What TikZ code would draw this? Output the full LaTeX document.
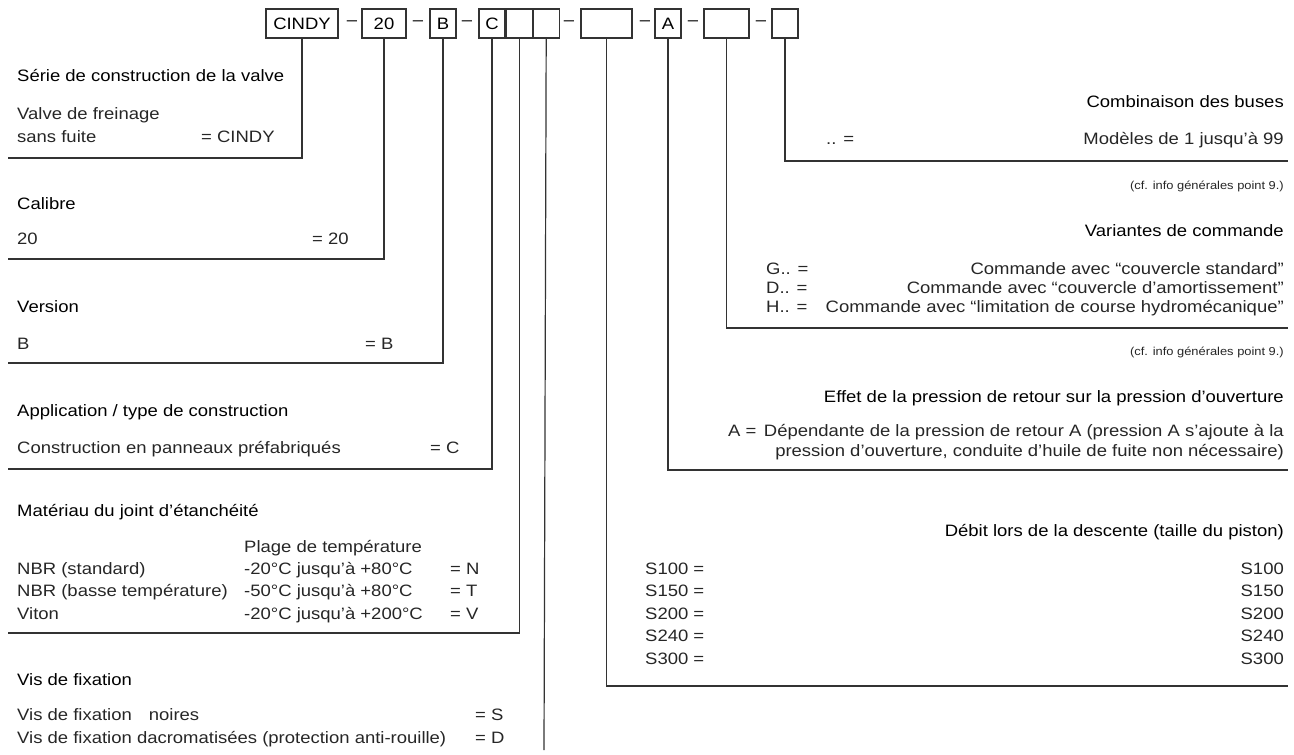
\documentclass[tikz,border=0pt]{standalone}
\usepackage{fontspec}
\setmainfont{Liberation Sans}[FakeStretch=1.12]
\usetikzlibrary{positioning}

\tikzset{
  codebox/.style={draw=black!80, line width=1.1pt, minimum height=29pt, minimum width=26pt, inner sep=0pt, font=\fontsize{16.5}{18}\selectfont},
  sepmark/.style={inner sep=0pt, font=\fontsize{16.5}{18}\selectfont},
  head/.style={inner sep=0pt, font=\fontsize{16.5}{18}\selectfont, text=black},
  txt/.style={inner sep=0pt, font=\fontsize{16.5}{18}\selectfont, text=black!85},
  note/.style={inner sep=0pt, font=\fontsize{11.5}{13}\selectfont, text=black!85, anchor=base east},
  lead/.style={draw=black!80, line width=1.2pt},
}

\begin{document}
\begin{tikzpicture}[x=1pt,y=-1pt]
  \useasboundingbox (0,0) rectangle (1294,755);

  % type code
  \node[codebox, minimum width=72pt] (bCindy) at (302,23.5) {CINDY};
  \node[sepmark] (s1) at (352,23.5) {--};
  \node[codebox, minimum width=44pt] (b20) at (384,23.5) {20};
  \node[sepmark] (s2) at (418,23.5) {--};
  \node[codebox] (bB) at (443,23.5) {B};
  \node[sepmark] (s3) at (467,23.5) {--};
  \node[codebox] (bC) at (492,23.5) {C};
  \node[codebox, right=0pt of bC] (bSeal) {};
  \node[codebox, right=0pt of bSeal] (bScrew) {};
  \node[sepmark] (s4) at (569,23.5) {--};
  \node[codebox, minimum width=51pt] (bFlow) at (606.5,23.5) {};
  \node[sepmark] (s5) at (645,23.5) {--};
  \node[codebox] (bA) at (668,23.5) {A};
  \node[sepmark] (s6) at (693,23.5) {--};
  \node[codebox, minimum width=45pt] (bCtrl) at (726.5,23.5) {};
  \node[sepmark] (s7) at (761,23.5) {--};
  \node[codebox] (bNoz) at (785,23.5) {};

  % left side
  \node[head, anchor=base west] (hSerie) at (17,81) {Série de construction de la valve};
  \node[txt, anchor=base west] (tSerie1) at (17,119) {Valve de freinage};
  \node[txt, anchor=base west] (tSerie2) at (17,142) {sans fuite};
  \node[txt, anchor=base west] (vSerie) at (201,142) {= CINDY};
  \coordinate (eSerie) at (8,158);
  \draw[lead] (bCindy.south) |- (eSerie);

  \node[head, anchor=base west] (hCal) at (17,209) {Calibre};
  \node[txt, anchor=base west] (tCal) at (17,244) {20};
  \node[txt, anchor=base west] (vCal) at (312,244) {= 20};
  \coordinate (eCal) at (8,259);
  \draw[lead] (b20.south) |- (eCal);

  \node[head, anchor=base west] (hVer) at (17,312) {Version};
  \node[txt, anchor=base west] (tVer) at (17,349) {B};
  \node[txt, anchor=base west] (vVer) at (365,349) {= B};
  \coordinate (eVer) at (8,363);
  \draw[lead] (bB.south) |- (eVer);

  \node[head, anchor=base west] (hApp) at (17,416) {Application / type de construction};
  \node[txt, anchor=base west] (tApp) at (17,453) {Construction en panneaux préfabriqués};
  \node[txt, anchor=base west] (vApp) at (430,453) {= C};
  \coordinate (eApp) at (8,469);
  \draw[lead] (bC.south) |- (eApp);

  \node[head, anchor=base west] (hSeal) at (17,516) {Matériau du joint d’étanchéité};
  \node[txt, anchor=base west] (tRange) at (244,552) {Plage de température};
  \node[txt, anchor=base west] (tN) at (17,574) {NBR (standard)};
  \node[txt, anchor=base west] (rN) at (244,574) {-20°C jusqu’à +80°C};
  \node[txt, anchor=base west] (vN) at (450,574) {= N};
  \node[txt, anchor=base west] (tT) at (17,596) {NBR (basse température)};
  \node[txt, anchor=base west] (rT) at (244,596) {-50°C jusqu’à +80°C};
  \node[txt, anchor=base west] (vT) at (450,596) {= T};
  \node[txt, anchor=base west] (tV) at (17,619) {Viton};
  \node[txt, anchor=base west] (rV) at (244,619) {-20°C jusqu’à +200°C};
  \node[txt, anchor=base west] (vV) at (450,619) {= V};
  \coordinate (eSeal) at (8,633);
  \draw[lead] (bSeal.south) |- (eSeal);

  \node[head, anchor=base west] (hScrew) at (17,685) {Vis de fixation};
  \node[txt, anchor=base west] (tS) at (17,720) {Vis de fixation\hspace*{17pt}noires};
  \node[txt, anchor=base west] (vS) at (475,720) {= S};
  \node[txt, anchor=base west] (tD) at (17,743) {Vis de fixation dacromatisées (protection anti-rouille)};
  \node[txt, anchor=base west] (vD) at (475,743) {= D};
  \coordinate (eScrew) at (544,750);
  \draw[lead] (bScrew.south) -- (eScrew);

  % right side
  \node[head, anchor=base east] (hNoz) at (1284,107) {Combinaison des buses};
  \node[txt, anchor=base west] (kNoz) at (826,144) {.. =};
  \node[txt, anchor=base east] (vNoz) at (1284,144) {Modèles de 1 jusqu’à 99};
  \coordinate (eNoz) at (1288,161);
  \draw[lead] (bNoz.south) |- (eNoz);
  \node[note] (nNoz) at (1284,189) {(cf. info générales point 9.)};

  \node[head, anchor=base east] (hCtrl) at (1284,236) {Variantes de commande};
  \node[txt, anchor=base west] (kG) at (766,274) {G.. =};
  \node[txt, anchor=base east] (vG) at (1284,274) {Commande avec “couvercle standard”};
  \node[txt, anchor=base west] (kD) at (766,293) {D.. =};
  \node[txt, anchor=base east] (vD2) at (1284,293) {Commande avec “couvercle d’amortissement”};
  \node[txt, anchor=base west] (kH) at (766,312) {H.. =};
  \node[txt, anchor=base east] (vH) at (1284,312) {Commande avec “limitation de course hydromécanique”};
  \coordinate (eCtrl) at (1288,328);
  \draw[lead] (bCtrl.south) |- (eCtrl);
  \node[note] (nCtrl) at (1284,355) {(cf. info générales point 9.)};

  \node[head, anchor=base east] (hA) at (1284,402) {Effet de la pression de retour sur la pression d’ouverture};
  \node[txt, anchor=base west] (kA) at (728,436) {A =};
  \node[txt, anchor=base east] (vA1) at (1284,436) {Dépendante de la pression de retour A (pression A s’ajoute à la};
  \node[txt, anchor=base east] (vA2) at (1284,456) {pression d’ouverture, conduite d’huile de fuite non nécessaire)};
  \coordinate (eA) at (1288,470);
  \draw[lead] (bA.south) |- (eA);

  \node[head, anchor=base east] (hFlow) at (1284,536) {Débit lors de la descente (taille du piston)};
  \foreach \s [count=\i] in {100,150,200,240,300}{
    \node[txt, anchor=base west] (kS\s) at (645,{574+(\i-1)*22.6}) {S\s\ =};
    \node[txt, anchor=base east] (vS\s) at (1284,{574+(\i-1)*22.6}) {S\s};
  }
  \coordinate (eFlow) at (1288,686);
  \draw[lead] (bFlow.south) |- (eFlow);
\end{tikzpicture}
\end{document}
